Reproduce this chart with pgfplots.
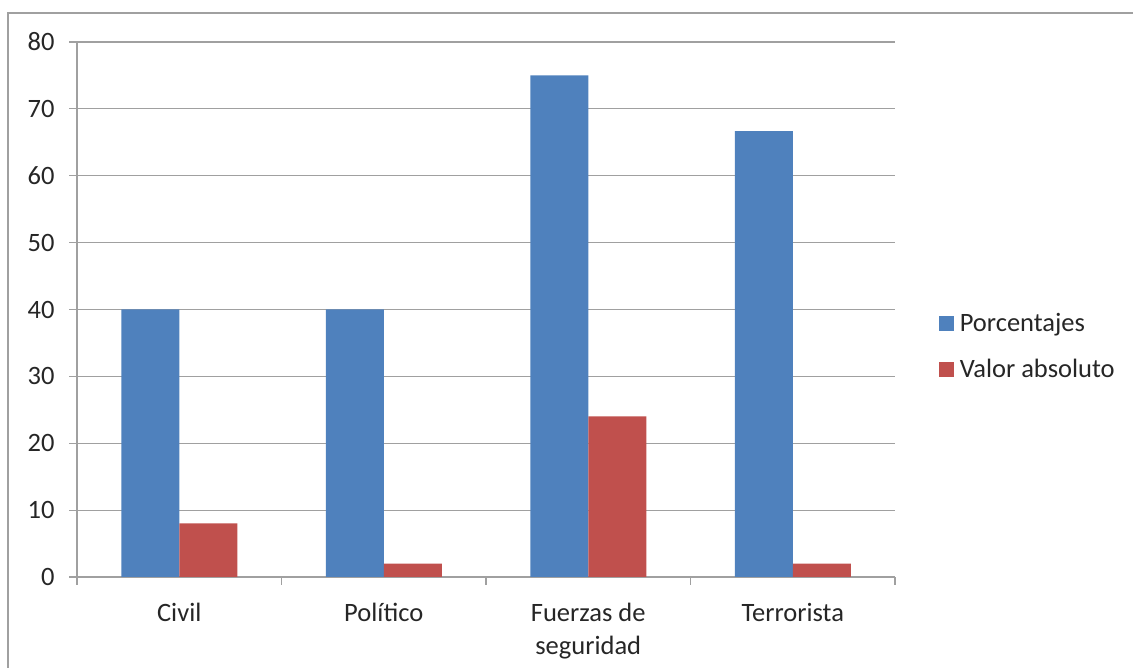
\documentclass[border=0pt]{standalone}
\usepackage{fontspec}
\setmainfont{Carlito}
\usepackage{pgfplots}
\pgfplotsset{compat=1.18}
\definecolor{ablue}{HTML}{4F81BD}
\definecolor{ared}{HTML}{C0504D}
\definecolor{gridg}{HTML}{A0A0A0}
\definecolor{txt}{HTML}{262626}

\begin{document}
\begin{tikzpicture}[x=1pt,y=1pt]
\useasboundingbox (0,0) rectangle (1133,668);
\draw[color=gridg, line width=1.3pt] (8,0) -- (8,655) -- (1133,655);
\begin{axis}[
  at={(77pt,91pt)}, anchor=south west,
  scale only axis, width=818pt, height=535pt,
  ybar=0pt, bar width=58pt,
  xmin=-0.5, xmax=3.5, ymin=0, ymax=80,
  xtick={0,1,2,3},
  xticklabels={Civil, Político, {Fuerzas de\\seguridad}, Terrorista},
  minor xtick={-0.5,0.5,1.5,2.5,3.5},
  ytick={0,10,...,80},
  axis x line*=bottom, axis y line*=left,
  axis line style={gridg, line width=1.2pt},
  tick align=outside,
  major tick length=8pt, minor tick length=8pt,
  major x tick style={draw=none},
  minor x tick style={gridg, line width=1.2pt},
  major y tick style={gridg, line width=1.2pt},
  ymajorgrids, grid style={gridg, line width=1.2pt},
  /pgf/number format/assume math mode=true,
  tick label style={font=\fontsize{26.5}{33}\selectfont, text=txt},
  yticklabel style={xshift=-11pt},
  xticklabel style={align=center, yshift=-15pt},
  legend style={at={(1.0496,0.50)}, anchor=north west, draw=none, fill=none,
    font=\fontsize{26.5}{30}\selectfont, text=txt, row sep=22pt,
    legend cell align=left},
]
\addplot[fill=ablue, draw=none,
  legend image code/.code={\fill[ablue] (0pt,-7.5pt) rectangle (15pt,7.5pt); \path (19pt,0pt);}]
  coordinates {(0,40) (1,40) (2,75) (3,66.67)};
\addplot[fill=ared, draw=none,
  legend image code/.code={\fill[ared] (0pt,-7.5pt) rectangle (15pt,7.5pt); \path (19pt,0pt);}]
  coordinates {(0,8) (1,2) (2,24) (3,2)};
\legend{Porcentajes, Valor absoluto}
\end{axis}
\end{tikzpicture}
\end{document}
